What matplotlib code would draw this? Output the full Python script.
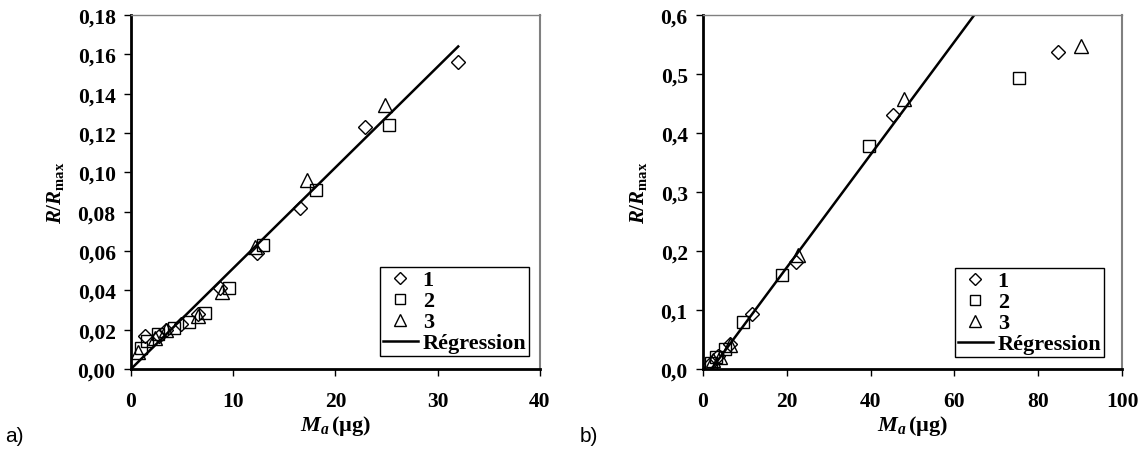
import numpy as np
import matplotlib
matplotlib.use("Agg")
import matplotlib.pyplot as plt
from matplotlib.ticker import FuncFormatter

plt.rcParams['font.family'] = ['Liberation Serif', 'DejaVu Serif']
plt.rcParams['font.weight'] = 'bold'
plt.rcParams['mathtext.fontset'] = 'custom'
plt.rcParams['mathtext.rm'] = 'Liberation Serif:bold'
plt.rcParams['mathtext.it'] = 'Liberation Serif:bold:italic'
plt.rcParams['mathtext.bf'] = 'Liberation Serif:bold'

# --- données a) ---
a_x1 = [1.4, 2.7, 3.4, 4.9, 6.6, 8.7, 12.3, 16.5, 22.9, 32.0]
a_y1 = [0.017, 0.017, 0.020, 0.023, 0.028, 0.041, 0.059, 0.082, 0.123, 0.156]
a_x2 = [1.0, 1.6, 2.6, 4.2, 5.7, 7.2, 9.6, 12.9, 18.1, 25.2]
a_y2 = [0.0105, 0.014, 0.018, 0.021, 0.024, 0.0285, 0.041, 0.063, 0.091, 0.124]
a_x3 = [0.7, 2.3, 3.4, 6.6, 8.9, 12.1, 17.2, 24.8]
a_y3 = [0.0085, 0.016, 0.020, 0.027, 0.039, 0.062, 0.096, 0.134]
a_reg_x = [0.0, 32.0]
a_reg_y = [0.0, 0.164]

# --- données b) ---
b_x1 = [1.5, 3.5, 6.5, 11.6, 22.2, 45.3, 84.8]
b_y1 = [0.006, 0.022, 0.043, 0.093, 0.181, 0.431, 0.538]
b_x2 = [2.0, 3.2, 5.2, 9.5, 18.9, 39.7, 75.3]
b_y2 = [0.010, 0.021, 0.034, 0.079, 0.159, 0.378, 0.494]
b_x3 = [2.5, 4.0, 6.4, 22.7, 48.0, 90.1]
b_y3 = [0.015, 0.020, 0.040, 0.193, 0.458, 0.548]
b_reg_x = [2.0, 66.0]
b_reg_y = [0.0, 0.612]

fig = plt.figure(figsize=(11.44, 4.52), dpi=100)
ax_a = fig.add_axes([131 / 1144, 82 / 452, 409 / 1144, 354 / 452])
ax_b = fig.add_axes([703 / 1144, 82 / 452, 419 / 1144, 354 / 452])


def style_axes(ax, fmt):
    ax.spines['left'].set_linewidth(2)
    ax.spines['bottom'].set_linewidth(2)
    ax.spines['top'].set_color('#808080')
    ax.spines['right'].set_color('#808080')
    ax.spines['top'].set_linewidth(1)
    ax.spines['right'].set_linewidth(1.5)
    ax.tick_params(direction='out', length=5, width=1, labelsize=15.5, pad=6)
    ax.tick_params(axis='x', pad=11)
    ax.yaxis.set_major_formatter(FuncFormatter(lambda v, p: fmt.format(v).replace('.', ',')))
    ax.set_ylabel(r'$R/R_{\mathrm{max}}$', fontsize=15, labelpad=8)
    ax.set_xlabel(r'$M_a\,\mathrm{(µg)}$', fontsize=16, labelpad=1)


def draw(ax, x1, y1, x2, y2, x3, y3, rx, ry, leg_anchor):
    kw = dict(linestyle='none', markerfacecolor='none', markeredgecolor='black', markeredgewidth=1)
    ax.plot(x1, y1, marker='D', markersize=7, label='1', **kw)
    ax.plot(x2, y2, marker='s', markersize=9, label='2', **kw)
    ax.plot(x3, y3, marker='^', markersize=10, label='3', **kw)
    ax.plot(rx, ry, color='black', linewidth=1.8, label='Régression')
    leg = ax.legend(loc='lower left', bbox_to_anchor=leg_anchor, bbox_transform=fig.transFigure,
                    fontsize=16, frameon=True, fancybox=False, edgecolor='black',
                    framealpha=1, markerscale=0.85, handlelength=1.6, handletextpad=0.2,
                    borderpad=0.12, labelspacing=0.02, borderaxespad=0)
    leg.get_frame().set_linewidth(1)


draw(ax_a, a_x1, a_y1, a_x2, a_y2, a_x3, a_y3, a_reg_x, a_reg_y, (380 / 1144, (452 - 357) / 452))
ax_a.set_xlim(0, 40)
ax_a.set_ylim(0, 0.18)
ax_a.set_xticks(np.arange(0, 41, 10))
ax_a.set_yticks(np.arange(0, 0.181, 0.02))
style_axes(ax_a, '{:.2f}')

draw(ax_b, b_x1, b_y1, b_x2, b_y2, b_x3, b_y3, b_reg_x, b_reg_y, (955 / 1144, (452 - 358) / 452))
ax_b.set_xlim(0, 100)
ax_b.set_ylim(0, 0.6)
ax_b.set_xticks(np.arange(0, 101, 20))
ax_b.set_yticks(np.arange(0, 0.61, 0.1))
style_axes(ax_b, '{:.1f}')

fig.text(5 / 1144, 1 - 442 / 452, 'a)', family='Liberation Sans', fontweight='normal', fontsize=15)
fig.text(580 / 1144, 1 - 442 / 452, 'b)', family='Liberation Sans', fontweight='normal', fontsize=15)

fig.savefig('out.png', dpi=100)
